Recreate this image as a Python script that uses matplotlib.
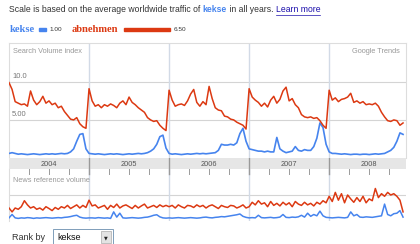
import numpy as np
import matplotlib
matplotlib.use("Agg")
import matplotlib.pyplot as plt
from matplotlib.patches import Rectangle

plt.rcParams["font.family"] = ["Liberation Sans", "DejaVu Sans"]

BLUE = "#4684ee"
RED = "#dc3912"
GRID = "#d2dae6"
TXT = "#777777"

years = [2004, 2005, 2006, 2007, 2008]
ymax_top = 15.1

# search volume, two samples per month
abnehmen_2004 = [9.9, 9.0, 7.4, 7.2, 7.0, 7.1, 6.8, 8.8, 7.6, 7.0, 7.4, 8.1, 7.2,
                 7.5, 7.0, 7.2, 6.6, 6.8, 6.1, 5.6, 5.1, 5.0, 5.3, 4.5, 4.1, 3.9]
abnehmen_2005 = [9.1, 7.5, 6.8, 7.0, 6.6, 7.0, 6.8, 7.1, 6.9, 6.6, 7.2, 7.5, 7.0,
                 8.0, 7.3, 7.0, 6.6, 6.3, 6.0, 5.3, 5.0, 4.8, 4.9, 4.3, 3.9, 3.6]
abnehmen_2006 = [8.9, 7.6, 6.8, 7.0, 7.1, 6.9, 7.5, 8.4, 9.0, 7.3, 6.8, 7.4, 7.0,
                 9.4, 7.8, 6.6, 6.3, 6.2, 5.5, 5.4, 5.1, 5.0, 4.7, 4.5, 4.3, 3.8]
abnehmen_2007 = [9.1, 8.0, 7.6, 7.3, 6.8, 7.2, 6.7, 7.6, 8.1, 7.2, 7.7, 8.8, 9.3,
                 7.5, 7.8, 7.0, 6.6, 5.7, 5.4, 5.3, 5.4, 5.2, 5.3, 4.9, 4.3, 3.9]
abnehmen_2008 = [8.9, 7.6, 7.9, 7.4, 7.7, 7.8, 8.0, 8.5, 7.3, 7.5, 7.2, 7.4, 7.0,
                 7.1, 7.0, 7.2, 6.8, 6.0, 5.4, 4.9, 4.8, 5.0, 4.9, 4.3, 4.6]

kekse_2004 = [0.6, 0.7, 0.6, 0.5, 0.55, 0.5, 0.45, 0.5, 0.55, 0.5, 0.45, 0.5, 0.55,
              0.5, 0.55, 0.5, 0.55, 0.6, 0.55, 0.6, 0.8, 1.2, 2.2, 3.1, 3.2, 1.2]
kekse_2005 = [0.6, 0.55, 0.5, 0.55, 0.5, 0.45, 0.5, 0.55, 0.5, 0.55, 0.5, 0.45, 0.5,
              0.55, 0.5, 0.55, 0.6, 0.55, 0.6, 0.7, 0.9, 1.2, 1.8, 2.8, 3.0, 1.3]
kekse_2006 = [0.6, 0.5, 0.55, 0.5, 0.45, 0.5, 0.55, 0.5, 0.55, 0.6, 0.55, 0.6, 0.55,
              0.6, 0.65, 0.7, 1.0, 1.8, 1.7, 1.7, 1.8, 1.7, 2.0, 3.2, 3.9, 2.2]
kekse_2007 = [1.2, 1.1, 1.0, 0.9, 0.9, 0.8, 0.9, 0.8, 0.8, 2.7, 1.2, 0.9, 0.7,
              0.8, 0.9, 1.5, 1.0, 0.9, 1.1, 1.0, 1.0, 1.5, 2.6, 4.6, 4.0, 1.8]
kekse_2008 = [0.8, 0.6, 0.6, 0.55, 0.5, 0.55, 0.5, 0.45, 0.5, 0.5, 0.45, 0.5, 0.5,
              0.45, 0.5, 0.55, 0.5, 0.55, 0.6, 0.8, 1.0, 1.4, 2.2, 3.3, 3.1]

# news reference volume (relative)
news_abnehmen_2004 = [0.5, 0.35, 0.5, 0.45, 0.55, 0.78, 0.62, 0.5, 0.55, 0.45, 0.5, 0.42, 0.55,
                      0.48, 0.4, 0.52, 0.45, 0.55, 0.5, 0.6, 0.48, 0.55, 0.62, 0.5, 0.6, 0.52]
news_abnehmen_2005 = [0.8, 0.58, 0.62, 0.5, 0.55, 0.6, 0.45, 0.6, 0.52, 0.65, 0.5, 0.58, 0.62,
                      0.55, 0.48, 0.6, 0.5, 0.58, 0.65, 0.5, 0.55, 0.6, 0.52, 0.62, 0.55, 0.6]
news_abnehmen_2006 = [0.55, 0.6, 0.5, 0.62, 0.55, 0.5, 0.6, 0.58, 0.52, 0.62, 0.55, 0.6, 0.5,
                      0.58, 0.62, 0.55, 0.48, 0.6, 0.55, 0.52, 0.6, 0.58, 0.5, 0.55, 0.62, 0.5]
news_abnehmen_2007 = [0.55, 0.72, 0.62, 0.78, 0.65, 0.7, 0.55, 0.75, 0.6, 0.68, 0.58, 0.72, 0.62,
                      0.7, 0.55, 0.75, 0.65, 0.6, 0.72, 0.62, 0.68, 0.58, 0.72, 0.65, 0.78, 0.7]
news_abnehmen_2008 = [0.95, 0.75, 1.1, 0.8, 1.05, 0.7, 1.0, 0.85, 0.72, 0.9, 0.75, 0.95, 0.7,
                      0.85, 0.78, 1.25, 0.9, 1.05, 0.95, 1.1, 1.0, 1.05, 0.95, 0.8, 0.35]

news_kekse_2004 = [0.12, 0.25, 0.12, 0.1, 0.12, 0.11, 0.13, 0.12, 0.1, 0.12, 0.11, 0.12, 0.13,
                   0.12, 0.11, 0.12, 0.13, 0.12, 0.14, 0.15, 0.17, 0.2, 0.22, 0.15, 0.12, 0.11]
news_kekse_2005 = [0.12, 0.12, 0.11, 0.13, 0.12, 0.11, 0.12, 0.1, 0.35, 0.15, 0.3, 0.12, 0.11,
                   0.12, 0.13, 0.12, 0.11, 0.12, 0.14, 0.15, 0.18, 0.22, 0.24, 0.16, 0.12, 0.11]
news_kekse_2006 = [0.12, 0.11, 0.12, 0.13, 0.12, 0.11, 0.12, 0.13, 0.12, 0.11, 0.12, 0.14, 0.15,
                   0.13, 0.12, 0.14, 0.15, 0.17, 0.16, 0.18, 0.2, 0.22, 0.24, 0.27, 0.18, 0.14]
news_kekse_2007 = [0.12, 0.13, 0.12, 0.22, 0.13, 0.12, 0.13, 0.14, 0.12, 0.13, 0.15, 0.25, 0.14,
                   0.13, 0.15, 0.14, 0.16, 0.22, 0.15, 0.3, 0.18, 0.25, 0.2, 0.38, 0.2, 0.14]
news_kekse_2008 = [0.13, 0.12, 0.13, 0.14, 0.13, 0.12, 0.14, 0.35, 0.2, 0.25, 0.15, 0.14, 0.16,
                   0.15, 0.14, 0.16, 0.18, 0.2, 0.65, 0.25, 0.2, 0.28, 0.3, 0.4, 0.15]

abnehmen = abnehmen_2004 + abnehmen_2005 + abnehmen_2006 + abnehmen_2007 + abnehmen_2008
kekse = kekse_2004 + kekse_2005 + kekse_2006 + kekse_2007 + kekse_2008
news_abnehmen = (news_abnehmen_2004 + news_abnehmen_2005 + news_abnehmen_2006
                 + news_abnehmen_2007 + news_abnehmen_2008)
news_kekse = news_kekse_2004 + news_kekse_2005 + news_kekse_2006 + news_kekse_2007 + news_kekse_2008
t = 2004 + np.arange(len(abnehmen)) / 26.0

W, H = 420, 244
fig = plt.figure(figsize=(W / 100, H / 100), dpi=100)
fig.patch.set_facecolor("white")


def box(x0, y0, x1, y1):
    # pixel box (top-left origin) -> figure fraction rect
    return [x0 / W, 1 - y1 / H, (x1 - x0) / W, (y1 - y0) / H]


x0, x1 = 9, 406
xlim = (2004.0, 2008.96)

# main search volume chart
ax = fig.add_axes(box(x0, 43, x1, 158))
ax.set_xlim(*xlim)
ax.set_ylim(0, ymax_top)
for y in (5, 10):
    ax.axhline(y, color="#d4d4d4", lw=0.8, zorder=1)
for yr in years[1:]:
    ax.axvline(yr, color=GRID, lw=1.0, zorder=1)
ax.plot(t, kekse, color=BLUE, lw=1.2, zorder=3)
ax.plot(t, abnehmen, color=RED, lw=1.1, zorder=3)
ax.set_xticks([])
ax.set_yticks([])
ax.spines["bottom"].set_visible(False)
for s in ("top", "left", "right"):
    ax.spines[s].set_color("#dddddd")
    ax.spines[s].set_linewidth(0.8)
ax.text(2004.04, 10.0 + 0.3, "10.0", fontsize=5.5, color=TXT, va="bottom", ha="left")
ax.text(2004.04, 5.0 + 0.3, "5.00", fontsize=5.5, color=TXT, va="bottom", ha="left")
ax.text(0.01, 0.93, "Search Volume index", transform=ax.transAxes,
        fontsize=5.3, color="#999999", va="center", ha="left")
ax.text(0.985, 0.93, "Google Trends", transform=ax.transAxes,
        fontsize=5.3, color="#999999", va="center", ha="right")

# year band
band = fig.add_axes(box(x0, 158, x1, 169))
band.set_xlim(*xlim)
band.set_ylim(0, 1)
band.set_facecolor("#e6e6e6")
for yr in years[1:]:
    band.axvline(yr, color="#9a9a9a", lw=1.0)
for yr in years:
    band.text(yr + 0.5, 0.45, str(yr), fontsize=5.3, color="#555555", ha="center", va="center")
band.set_xticks([])
band.set_yticks([])
for s in band.spines.values():
    s.set_visible(False)

# news reference volume
nx = fig.add_axes(box(x0, 169, x1, 221))
nx.set_xlim(*xlim)
nx.set_ylim(0, 2.0)
nx.axhline(1.0, color="#d4d4d4", lw=0.8, zorder=1)
for yr in years[1:]:
    nx.axvline(yr, color=GRID, lw=1.0, zorder=1)
    nx.plot([yr, yr], [2.0, 1.8], color="#9a9a9a", lw=1.0, zorder=2)
for yr in years:
    for q in (0.25, 0.5, 0.75):
        nx.plot([yr + q, yr + q], [2.0, 1.82], color="#9a9a9a", lw=0.7, zorder=2)
nx.plot(t, news_kekse, color=BLUE, lw=1.1, zorder=3)
nx.plot(t, news_abnehmen, color=RED, lw=1.1, zorder=3)
nx.set_xticks([])
nx.set_yticks([])
for s in ("top", "bottom", "right"):
    nx.spines[s].set_visible(False)
nx.spines["left"].set_color("#dddddd")
nx.spines["left"].set_linewidth(0.8)
nx.text(0.01, 0.77, "News reference volume", fontsize=5.3, color="#999999",
        transform=nx.transAxes, va="center", ha="left")

# header line built piece by piece
fig.canvas.draw()
rend = fig.canvas.get_renderer()


def put(x, y, s, **kw):
    tt = fig.text(x / W, 1 - y / H, s, va="center", ha="left", **kw)
    bb = tt.get_window_extent(rend)
    return bb.x1


hs = 6.2
x = put(9, 10, "Scale is based on the average worldwide traffic of ", fontsize=hs, color="#333333")
x = put(x, 10, "kekse", fontsize=hs, color=BLUE, fontweight="bold")
x = put(x, 10, " in all years. ", fontsize=hs, color="#333333")
lm = fig.text(x / W, 1 - 10 / H, "Learn more", fontsize=hs, color="#1a0dab", va="center", ha="left")
bb = lm.get_window_extent(rend)
fig.add_artist(plt.Line2D([bb.x0 / W, bb.x1 / W], [1 - 14.5 / H, 1 - 14.5 / H],
                          color="#1a0dab", lw=0.5))

# legend row
serif = ["Liberation Serif", "DejaVu Serif"]
x = put(10, 29, "kekse", fontsize=7.6, color=BLUE, fontweight="bold", family=serif)
fig.add_artist(Rectangle(((x + 4) / W, 1 - 30.5 / H), 7.2 * 1.00 / W, 3 / H,
                         color=BLUE, transform=fig.transFigure))
put(x + 4 + 7.2 + 3, 29.5, "1.00", fontsize=4.6, color="#333333")
x = put(72, 29, "abnehmen", fontsize=7.6, color=RED, fontweight="bold", family=serif)
fig.add_artist(Rectangle(((x + 5) / W, 1 - 30.5 / H), 7.2 * 6.50 / W, 3 / H,
                         color=RED, transform=fig.transFigure))
put(x + 5 + 7.2 * 6.5 + 3, 29.5, "6.50", fontsize=4.6, color="#333333")

# rank by control
put(12, 237, "Rank by", fontsize=6.5, color="#333333")
fig.add_artist(Rectangle((53 / W, 1 - 245 / H), 60 / W, 16 / H, facecolor="white",
                         edgecolor="#7f9db9", lw=0.7, transform=fig.transFigure))
put(57, 237, "kekse", fontsize=6.5, color="#111111")
fig.add_artist(Rectangle((101 / W, 1 - 243 / H), 10 / W, 12 / H, facecolor="#e3e3e3",
                         edgecolor="#aaaaaa", lw=0.5, transform=fig.transFigure))
fig.text(106 / W, 1 - 237.5 / H, "\u25bc", fontsize=3.5, color="#222222",
         ha="center", va="center", family=["DejaVu Sans"])

fig.savefig("out.png", dpi=100, facecolor="white")
